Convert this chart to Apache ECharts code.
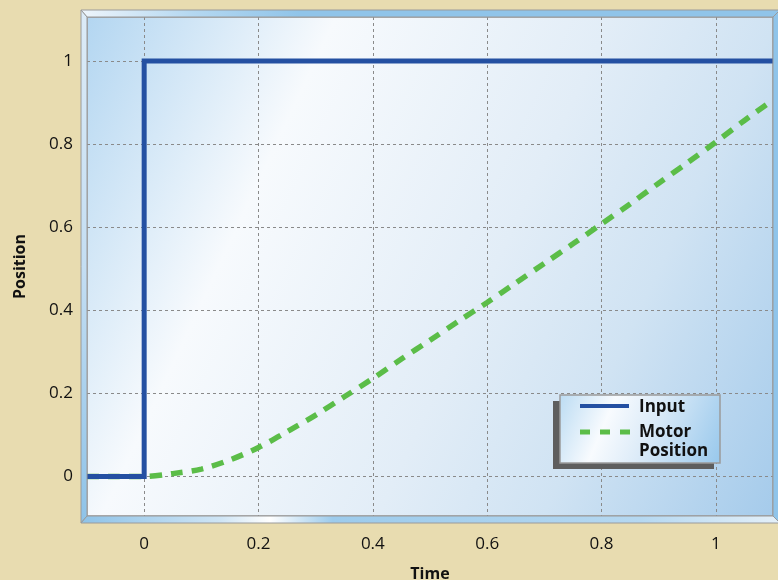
<!DOCTYPE html>
<html><head><meta charset="utf-8">
<script src="https://cdn.jsdelivr.net/npm/echarts@6/dist/echarts.min.js"></script>
<style>html,body{margin:0;padding:0;background:#e8dcb0}#c{width:778px;height:580px}</style>
</head><body><div id="c"></div><script>
// ---- data ----
const seriesNames = ['Input', 'Motor', 'Position'];
const xTicks = [0, 0.2, 0.4, 0.6, 0.8, 1];
const yTicks = [0, 0.2, 0.4, 0.6, 0.8, 1];
const inputT = [-0.1, 0, 0, 1.1];
const inputV = [0, 0, 1, 1];
const motorT = [-0.1, -0.05, 0, 0.05, 0.1, 0.15, 0.2, 0.25, 0.3, 0.35, 0.4, 0.45, 0.5, 0.55, 0.6, 0.65, 0.7, 0.75, 0.8, 0.85, 0.9, 0.95, 1.0, 1.05, 1.1];
const motorV = [0, 0, 0, 0.007, 0.018, 0.04, 0.07, 0.108, 0.148, 0.192, 0.236, 0.283, 0.328, 0.374, 0.419, 0.466, 0.513, 0.56, 0.608, 0.656, 0.706, 0.755, 0.805, 0.857, 0.906];

const BLUE = '#2450a2', GREEN = '#5bbd48';
const G = {l: 87, t: 17, r: 773, b: 516};
const F = {l: 81, t: 10, r: 780, b: 523};

const chart = echarts.init(document.getElementById('c'));
const lg = (x, y, x2, y2, stops, global) => new echarts.graphic.LinearGradient(x, y, x2, y2, stops.map(s => ({offset: s[0], color: s[1]})), global);

const graphics = [
  // plot background
  {type: 'rect', z: -10, shape: {x: G.l, y: G.t, width: G.r - G.l, height: G.b - G.t},
   style: {fill: lg(-100, 416, 654, 770, [[0, '#b3d6f1'], [0.27, '#f7fafd'], [0.57, '#e2edf7'], [0.75, '#d0e3f3'], [1, '#a5cbeb']], true), stroke: '#9a9a9a', lineWidth: 1.5}},
  // bevels
  {type: 'polygon', z: 50, shape: {points: [[F.l, F.t], [F.r, F.t], [G.r, G.t], [G.l, G.t]]},
   style: {fill: lg(F.l, 0, 300, 0, [[0, '#eef5fb'], [0.5, '#b5d8f1'], [1, '#90c4e9']], true), stroke: '#9a9a9a', lineWidth: 1}},
  {type: 'polygon', z: 50, shape: {points: [[F.l, F.t], [G.l, G.t], [G.l, G.b], [F.l, F.b]]},
   style: {fill: lg(0, F.t, 0, F.b, [[0, '#dcebf7'], [0.5, '#c4def3'], [1, '#8ec3e8']], true), stroke: '#9a9a9a', lineWidth: 1}},
  {type: 'polygon', z: 50, shape: {points: [[F.l, F.b], [G.l, G.b], [G.r, G.b], [F.r, F.b]]},
   style: {fill: lg(F.l, 0, F.r, 0, [[0, '#8ec3e8'], [0.2, '#cfe5f5'], [0.27, '#ffffff'], [0.36, '#9ccbec'], [0.8, '#b5d8f1'], [1, '#e4f0f9']], true), stroke: '#9a9a9a', lineWidth: 1}},
  {type: 'polygon', z: 50, shape: {points: [[G.r, G.t], [F.r, F.t], [F.r, F.b], [G.r, G.b]]},
   style: {fill: '#8fc4ea', stroke: '#9a9a9a', lineWidth: 1}},
  // legend
  {type: 'rect', z: 100, shape: {x: 553, y: 401, width: 161, height: 68}, style: {fill: '#5e5e5e'}},
  {type: 'rect', z: 101, shape: {x: 560, y: 395, width: 160, height: 68},
   style: {fill: lg(560, 395, 720, 463, [[0, '#bcdcf3'], [0.3, '#f8fbfe'], [0.55, '#dcebf8'], [1, '#98c8ec']], true), stroke: '#9a9a9a', lineWidth: 1.5}},
  {type: 'line', z: 102, shape: {x1: 580, y1: 406, x2: 629, y2: 406}, style: {stroke: BLUE, lineWidth: 4}},
  {type: 'line', z: 102, shape: {x1: 580, y1: 432, x2: 630, y2: 432}, style: {stroke: GREEN, lineWidth: 5, lineDash: [10, 10]}},
  {type: 'text', z: 102, x: 639, y: 407, style: {text: seriesNames[0], fill: '#111', font: 'bold 17px "Open Sans"', verticalAlign: 'middle'}},
  {type: 'text', z: 102, x: 639, y: 432, style: {text: seriesNames[1], fill: '#111', font: 'bold 17px "Open Sans"', verticalAlign: 'middle'}},
  {type: 'text', z: 102, x: 639, y: 451, style: {text: seriesNames[2], fill: '#111', font: 'bold 17px "Open Sans"', verticalAlign: 'middle'}}
];

const axisCommon = {
  type: 'value',
  axisLine: {show: false},
  axisTick: {show: false},
  splitLine: {show: true, lineStyle: {color: '#8a8a8a', width: 1, type: [3, 3]}},
  nameLocation: 'middle',
  nameTextStyle: {fontFamily: 'Open Sans', fontWeight: 'bold', fontSize: 16, color: '#111'}
};

chart.setOption({
  animation: false,
  backgroundColor: '#e8dcb0',
  grid: {left: G.l, top: G.t, width: G.r - G.l, height: G.b - G.t, containLabel: false, outerBoundsMode: 'none'},
  xAxis: Object.assign({}, axisCommon, {
    min: -0.1, max: 1.1, name: 'Time', nameGap: 50,
    axisTick: {show: false, customValues: xTicks},
    axisLabel: {customValues: xTicks, margin: 20, fontFamily: 'Open Sans', fontSize: 17, color: '#111', formatter: v => String(v)}
  }),
  yAxis: Object.assign({}, axisCommon, {
    min: -0.095, max: 1.106, name: 'Position', nameGap: 59,
    axisTick: {show: false, customValues: yTicks},
    axisLabel: {customValues: yTicks, margin: 14, fontFamily: 'Open Sans', fontSize: 17, color: '#111', formatter: v => String(v)}
  }),
  graphic: graphics,
  series: [
    {name: 'Motor Position', type: 'line', showSymbol: false, symbol: 'none', smooth: 0.3, z: 3,
     lineStyle: {color: GREEN, width: 5.5, type: [12, 9], cap: 'butt'},
     data: motorT.map((t, i) => [t, motorV[i]])},
    {name: 'Input', type: 'line', showSymbol: false, symbol: 'none', z: 4,
     lineStyle: {color: BLUE, width: 5, cap: 'butt', join: 'miter'},
     data: inputT.map((t, i) => [t, inputV[i]])}
  ]
});
</script></body></html>
